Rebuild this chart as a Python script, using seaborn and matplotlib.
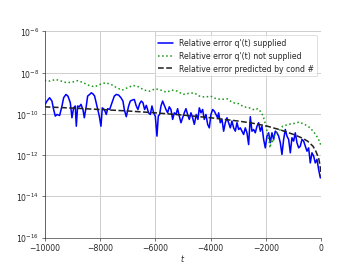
"""Relative error of q(t) along t, with and without q'(t) supplied."""

import matplotlib

matplotlib.use("Agg")
import matplotlib.pyplot as plt
import numpy as np
import pandas as pd
import seaborn as sns

# Relative error with q'(t) supplied (blue, solid)
BLUE_T = [
    -10000, -9916, -9819, -9735, -9675, -9614, -9554, -9458, -9373, -9313,
    -9229, -9157, -9072, -9012, -8952, -8892, -8855, -8807, -8747, -8687,
    -8614, -8566, -8494, -8446, -8374, -8313, -8253, -8193, -8108, -8024,
    -7964, -7916, -7843, -7771, -7723, -7651, -7566, -7482, -7410, -7325,
    -7241, -7169, -7120, -7048, -6964, -6904, -6831, -6759, -6687, -6627,
    -6566, -6506, -6446, -6386, -6325, -6241, -6181, -6120, -6060, -6000,
    -5940, -5892, -5843, -5795, -5735, -5675, -5614, -5554, -5494, -5434,
    -5373, -5313, -5253, -5193, -5133, -5072, -5012, -4952, -4892, -4831,
    -4771, -4711, -4651, -4590, -4518, -4458, -4410, -4349, -4289, -4229,
    -4169, -4108, -4048, -3988, -3928, -3867, -3807, -3747, -3711, -3651,
    -3590, -3530, -3470, -3410, -3349, -3289, -3229, -3169, -3108, -3048,
    -2988, -2928, -2867, -2807, -2747, -2687, -2627, -2566, -2506, -2446,
    -2386, -2325, -2265, -2205, -2145, -2084, -2024, -1964, -1904, -1843,
    -1783, -1723, -1663, -1602, -1542, -1482, -1422, -1361, -1301, -1241,
    -1181, -1120, -1060, -1000, -940, -880, -819, -759, -699, -639,
    -578, -518, -458, -398, -337, -277, -217, -157, -96, -36, 0,
]
BLUE_LOG10 = [
    -9.59, -9.38, -9.22, -9.38, -9.79, -10.11, -10.03, -10.08, -9.62, -9.22,
    -9.06, -9.14, -9.46, -10.19, -9.71, -9.62, -10.60, -9.62, -9.66, -9.54,
    -9.79, -10.19, -9.62, -9.14, -9.06, -8.98, -9.03, -9.14, -9.62, -10.11,
    -10.60, -9.71, -9.79, -10.03, -9.75, -9.79, -9.46, -9.14, -9.06, -9.09,
    -9.22, -9.38, -9.79, -10.14, -9.62, -9.38, -9.33, -9.30, -9.62, -9.79,
    -9.51, -9.38, -9.46, -9.79, -9.59, -9.95, -10.03, -9.62, -9.95, -10.11,
    -11.08, -10.11, -10.03, -9.62, -9.38, -9.59, -9.79, -9.95, -9.66, -9.79,
    -10.27, -9.95, -10.03, -9.75, -10.11, -10.43, -10.19, -9.95, -9.75, -10.03,
    -10.27, -9.95, -10.19, -10.51, -10.03, -10.27, -9.71, -9.95, -9.79, -10.27,
    -10.03, -10.51, -10.68, -10.03, -9.79, -9.87, -10.03, -10.19, -9.95, -10.43,
    -10.27, -10.84, -10.43, -10.19, -10.43, -10.68, -10.35, -10.68, -10.84, -10.43,
    -10.76, -10.68, -10.84, -11.00, -10.68, -10.92, -11.49, -10.14, -10.84, -10.76,
    -10.92, -10.60, -10.43, -10.84, -10.60, -11.24, -11.65, -11.08, -10.92, -11.40,
    -10.92, -11.24, -10.84, -10.92, -11.08, -11.40, -11.97, -11.24, -10.76, -11.08,
    -11.24, -11.89, -11.16, -11.32, -10.92, -11.40, -11.65, -11.57, -11.24, -11.32,
    -11.57, -11.81, -11.65, -12.38, -11.89, -12.05, -12.38, -12.21, -12.70, -13.10, -13.10,
]

# Relative error with q'(t) not supplied (green, dotted)
GREEN_T = [
    -10000, -9800, -9600, -9400, -9200, -9000, -8800, -8600, -8400, -8200,
    -8000, -7800, -7600, -7400, -7200, -7000, -6800, -6600, -6400, -6200,
    -6000, -5800, -5600, -5400, -5200, -5000, -4800, -4600, -4400, -4200,
    -4000, -3800, -3600, -3400, -3200, -3000, -2800, -2600, -2400, -2300,
    -2200, -2100, -2000, -1950, -1900, -1850, -1800, -1750, -1700, -1600,
    -1500, -1400, -1300, -1200, -1000, -800, -600, -400, -300, -200, -100, 0,
]
GREEN_LOG10 = [
    -8.38, -8.41, -8.33, -8.41, -8.49, -8.46, -8.39, -8.49, -8.62, -8.69,
    -8.57, -8.49, -8.57, -8.73, -8.85, -8.73, -8.62, -8.69, -8.85, -8.90,
    -8.78, -8.85, -8.95, -8.85, -8.90, -9.06, -9.01, -8.98, -9.14, -9.19,
    -9.14, -9.27, -9.30, -9.27, -9.46, -9.50, -9.66, -9.71, -9.82, -9.75,
    -9.88, -10.11, -10.60, -10.92, -11.24, -11.65, -11.24, -11.40, -11.08, -10.92,
    -10.79, -10.60, -10.56, -10.51, -10.47, -10.40, -10.51, -10.68, -10.84, -11.00, -11.24, -11.57,
]

# Relative error predicted by the condition number (black, dashed)
COND_T = [
    -10000, -9000, -8000, -7000, -6000, -5000, -4000, -3000, -2500, -2000,
    -1500, -1000, -700, -500, -300, -200, -100, -50, 0,
]
COND_LOG10 = [
    -9.66, -9.72, -9.79, -9.86, -9.95, -10.06, -10.19, -10.35, -10.45, -10.58,
    -10.77, -11.00, -11.17, -11.32, -11.57, -11.81, -12.13, -12.46, -13.05,
]

LABELS = [
    "Relative error q'(t) supplied",
    "Relative error q'(t) not supplied",
    "Relative error predicted by cond #",
]


def main() -> None:
    sns.set_style("ticks")
    plt.rcParams["font.family"] = ["DejaVu Sans"]

    fig, ax = plt.subplots(figsize=(6.4, 4.8), dpi=357 / 6.4)

    blue = pd.DataFrame({"t": BLUE_T, "err": np.power(10.0, BLUE_LOG10)})
    green = pd.DataFrame({"t": GREEN_T, "err": np.power(10.0, GREEN_LOG10)})
    cond = pd.DataFrame({"t": COND_T, "err": np.power(10.0, COND_LOG10)})

    sns.lineplot(data=blue, x="t", y="err", ax=ax, color="b", lw=2.0, label=LABELS[0])
    sns.lineplot(data=green, x="t", y="err", ax=ax, color="#1a9a1a", lw=2.0, ls=":", label=LABELS[1])
    sns.lineplot(data=cond, x="t", y="err", ax=ax, color="#222222", lw=2.0, ls="--", label=LABELS[2])

    ax.set_yscale("log")
    ax.set_xlim(-10000, 0)
    ax.set_ylim(1e-16, 1e-6)
    ax.set_yticks([1e-16, 1e-14, 1e-12, 1e-10, 1e-8, 1e-6])
    ax.minorticks_off()
    ax.grid(True, color="#cccccc", lw=1.2)
    ax.set_xlabel("$t$", labelpad=1)
    ax.set_ylabel("")
    ax.legend(loc="upper right", fontsize=10)
    sns.despine()

    fig.savefig("out.png")
    plt.close(fig)


if __name__ == "__main__":
    main()
